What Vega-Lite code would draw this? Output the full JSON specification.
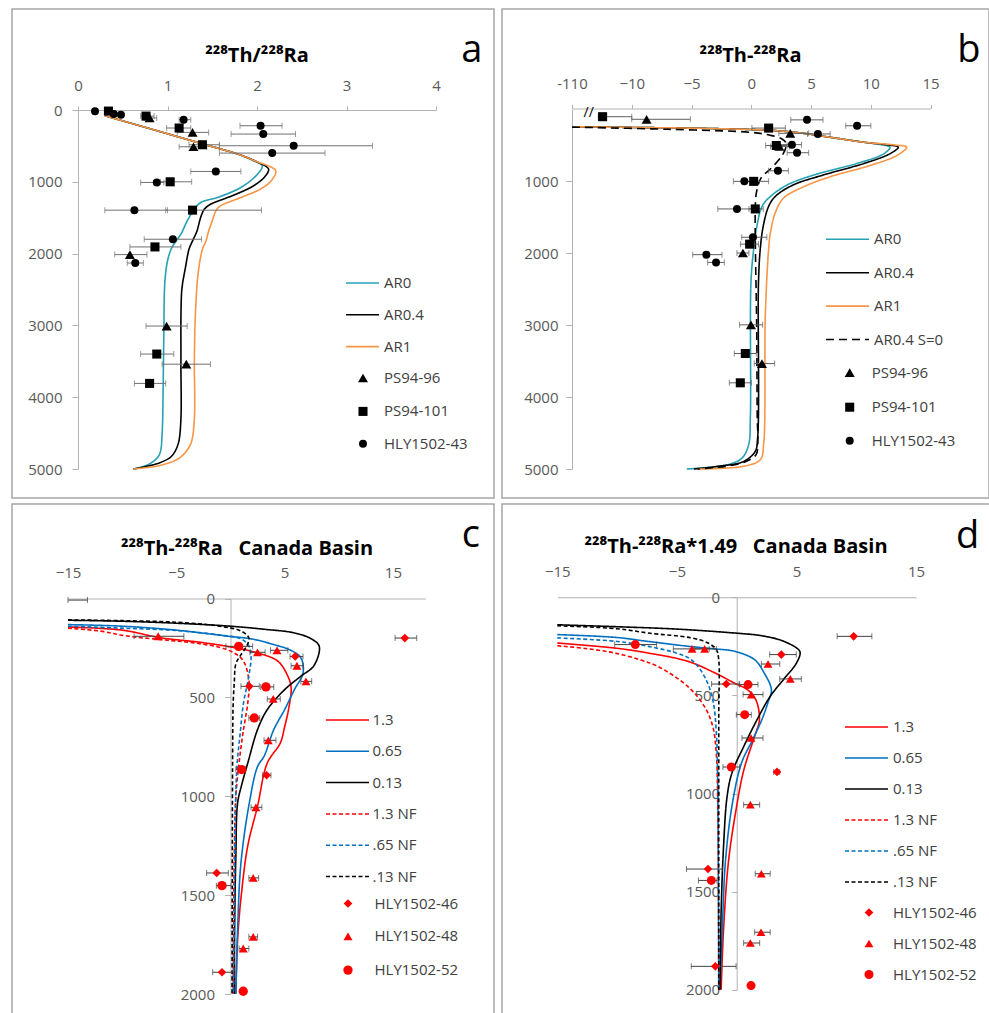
{
"$schema": "https://vega.github.io/schema/vega-lite/v6.json",
"background": "white",
"padding": {"left": 11, "top": 8, "right": 0, "bottom": 0},
"spacing": 4,
"resolve": {"scale": {"color": "independent", "shape": "independent", "size": "independent", "strokeDash": "independent", "strokeWidth": "independent"}, "legend": {"color": "independent", "shape": "independent", "size": "independent", "strokeDash": "independent", "strokeWidth": "independent"}},
"config": {
  "font": "Open Sans",
  "view": {"stroke": "#a6a6a6", "strokeWidth": 1.5},
  "axis": {"grid": false, "domainColor": "#b3b3b3", "tickColor": "#b3b3b3", "labelColor": "#595959", "labelFont": "Open Sans", "labelFontSize": 15, "labelFlush": false, "labelOverlap": false, "format": "d"},
  "title": {"font": "Open Sans", "fontSize": 20, "fontWeight": "bold", "color": "#000000", "anchor": "middle", "frame": "group"},
  "legend": {"labelFont": "Open Sans", "labelFontSize": 15, "labelColor": "#404040", "padding": 0, "columns": 1}
},
"datasets": {
  "a_lines": [
    {"series":"AR0","x":0.30,"depth":80},{"series":"AR0","x":1.0,"depth":330},{"series":"AR0","x":1.5,"depth":510},{"series":"AR0","x":1.75,"depth":600},{"series":"AR0","x":1.95,"depth":700},{"series":"AR0","x":2.06,"depth":780},{"series":"AR0","x":1.97,"depth":940},{"series":"AR0","x":1.82,"depth":1079},{"series":"AR0","x":1.56,"depth":1219},{"series":"AR0","x":1.37,"depth":1288},{"series":"AR0","x":1.30,"depth":1381},{"series":"AR0","x":1.22,"depth":1544},{"series":"AR0","x":1.15,"depth":1730},{"series":"AR0","x":1.07,"depth":1870},{"series":"AR0","x":1.04,"depth":1940},{"series":"AR0","x":1.0,"depth":2100},{"series":"AR0","x":0.97,"depth":2400},{"series":"AR0","x":0.96,"depth":3000},{"series":"AR0","x":0.95,"depth":4000},{"series":"AR0","x":0.94,"depth":4500},{"series":"AR0","x":0.91,"depth":4800},{"series":"AR0","x":0.80,"depth":4930},{"series":"AR0","x":0.62,"depth":5000},
    {"series":"AR0.4","x":0.30,"depth":80},{"series":"AR0.4","x":1.0,"depth":330},{"series":"AR0.4","x":1.5,"depth":510},{"series":"AR0.4","x":1.75,"depth":600},{"series":"AR0.4","x":1.98,"depth":710},{"series":"AR0.4","x":2.13,"depth":823},{"series":"AR0.4","x":2.08,"depth":940},{"series":"AR0.4","x":1.93,"depth":1079},{"series":"AR0.4","x":1.67,"depth":1219},{"series":"AR0.4","x":1.48,"depth":1312},{"series":"AR0.4","x":1.41,"depth":1381},{"series":"AR0.4","x":1.37,"depth":1498},{"series":"AR0.4","x":1.33,"depth":1684},{"series":"AR0.4","x":1.28,"depth":1823},{"series":"AR0.4","x":1.24,"depth":1940},{"series":"AR0.4","x":1.2,"depth":2200},{"series":"AR0.4","x":1.16,"depth":2500},{"series":"AR0.4","x":1.15,"depth":3500},{"series":"AR0.4","x":1.15,"depth":4300},{"series":"AR0.4","x":1.12,"depth":4650},{"series":"AR0.4","x":1.04,"depth":4830},{"series":"AR0.4","x":0.89,"depth":4925},{"series":"AR0.4","x":0.62,"depth":5000},
    {"series":"AR1","x":0.30,"depth":80},{"series":"AR1","x":1.0,"depth":330},{"series":"AR1","x":1.5,"depth":510},{"series":"AR1","x":1.75,"depth":600},{"series":"AR1","x":2.0,"depth":720},{"series":"AR1","x":2.21,"depth":847},{"series":"AR1","x":2.16,"depth":986},{"series":"AR1","x":2.04,"depth":1102},{"series":"AR1","x":1.82,"depth":1219},{"series":"AR1","x":1.59,"depth":1335},{"series":"AR1","x":1.54,"depth":1405},{"series":"AR1","x":1.50,"depth":1544},{"series":"AR1","x":1.46,"depth":1684},{"series":"AR1","x":1.43,"depth":1823},{"series":"AR1","x":1.39,"depth":1940},{"series":"AR1","x":1.34,"depth":2300},{"series":"AR1","x":1.31,"depth":2900},{"series":"AR1","x":1.30,"depth":3500},{"series":"AR1","x":1.30,"depth":4300},{"series":"AR1","x":1.26,"depth":4650},{"series":"AR1","x":1.14,"depth":4840},{"series":"AR1","x":0.95,"depth":4940},{"series":"AR1","x":0.62,"depth":5000}
  ],
  "a_pts": [
    {"series":"PS94-96","x":0.80,"depth":110,"lo":0.74,"hi":0.88},
    {"series":"PS94-96","x":1.28,"depth":312,"lo":1.11,"hi":1.46},
    {"series":"PS94-96","x":1.29,"depth":512,"lo":1.13,"hi":1.44},
    {"series":"PS94-96","x":0.58,"depth":2014,"lo":0.41,"hi":0.77},
    {"series":"PS94-96","x":0.99,"depth":3009,"lo":0.76,"hi":1.22},
    {"series":"PS94-96","x":1.21,"depth":3540,"lo":0.94,"hi":1.48},
    {"series":"PS94-101","x":0.34,"depth":15,"lo":null,"hi":null},
    {"series":"PS94-101","x":0.76,"depth":85,"lo":0.70,"hi":0.85},
    {"series":"PS94-101","x":1.13,"depth":251,"lo":0.99,"hi":1.26},
    {"series":"PS94-101","x":1.39,"depth":484,"lo":1.24,"hi":1.58},
    {"series":"PS94-101","x":1.03,"depth":1000,"lo":0.92,"hi":1.27},
    {"series":"PS94-101","x":1.28,"depth":1395,"lo":0.98,"hi":2.05},
    {"series":"PS94-101","x":0.86,"depth":1907,"lo":0.58,"hi":1.15},
    {"series":"PS94-101","x":0.88,"depth":3399,"lo":0.70,"hi":1.07},
    {"series":"PS94-101","x":0.80,"depth":3808,"lo":0.63,"hi":0.98},
    {"series":"HLY1502-43","x":0.19,"depth":19,"lo":null,"hi":null},
    {"series":"HLY1502-43","x":0.40,"depth":56,"lo":null,"hi":null},
    {"series":"HLY1502-43","x":0.48,"depth":65,"lo":null,"hi":null},
    {"series":"HLY1502-43","x":1.18,"depth":135,"lo":1.13,"hi":1.26},
    {"series":"HLY1502-43","x":2.04,"depth":219,"lo":1.81,"hi":2.28},
    {"series":"HLY1502-43","x":2.07,"depth":335,"lo":1.71,"hi":2.43},
    {"series":"HLY1502-43","x":2.41,"depth":498,"lo":1.58,"hi":3.29},
    {"series":"HLY1502-43","x":2.17,"depth":600,"lo":1.58,"hi":2.76},
    {"series":"HLY1502-43","x":1.54,"depth":856,"lo":1.26,"hi":1.82},
    {"series":"HLY1502-43","x":0.88,"depth":1009,"lo":0.70,"hi":0.96},
    {"series":"HLY1502-43","x":0.63,"depth":1395,"lo":0.30,"hi":1.0},
    {"series":"HLY1502-43","x":1.06,"depth":1800,"lo":0.74,"hi":1.38},
    {"series":"HLY1502-43","x":0.64,"depth":2131,"lo":0.55,"hi":0.73}
  ],
  "b_lines": [
    {"series":"AR0","x":-15,"depth":247},{"series":"AR0","x":-10,"depth":256},{"series":"AR0","x":-5,"depth":266},{"series":"AR0","x":0,"depth":285},{"series":"AR0","x":2,"depth":300},{"series":"AR0","x":4,"depth":330},{"series":"AR0","x":6.6,"depth":393},{"series":"AR0","x":9.4,"depth":461},{"series":"AR0","x":11.0,"depth":500},{"series":"AR0","x":11.6,"depth":530},{"series":"AR0","x":11.1,"depth":621},{"series":"AR0","x":8.8,"depth":758},{"series":"AR0","x":5.2,"depth":918},{"series":"AR0","x":3.0,"depth":1055},{"series":"AR0","x":1.6,"depth":1215},{"series":"AR0","x":0.9,"depth":1352},{"series":"AR0","x":0.47,"depth":1626},{"series":"AR0","x":0.2,"depth":1944},{"series":"AR0","x":-0.03,"depth":2412},{"series":"AR0","x":-0.08,"depth":4286},{"series":"AR0","x":-0.22,"depth":4660},{"series":"AR0","x":-0.78,"depth":4848},{"series":"AR0","x":-2.03,"depth":4941},{"series":"AR0","x":-5.4,"depth":5000},
    {"series":"AR0.4","x":-15,"depth":247},{"series":"AR0.4","x":-10,"depth":256},{"series":"AR0.4","x":-5,"depth":266},{"series":"AR0.4","x":0,"depth":285},{"series":"AR0.4","x":2,"depth":300},{"series":"AR0.4","x":4,"depth":330},{"series":"AR0.4","x":6.6,"depth":393},{"series":"AR0.4","x":9.4,"depth":461},{"series":"AR0.4","x":11.5,"depth":500},{"series":"AR0.4","x":12.3,"depth":530},{"series":"AR0.4","x":11.6,"depth":621},{"series":"AR0.4","x":9.4,"depth":758},{"series":"AR0.4","x":6.0,"depth":918},{"series":"AR0.4","x":3.5,"depth":1055},{"series":"AR0.4","x":2.0,"depth":1215},{"series":"AR0.4","x":1.45,"depth":1352},{"series":"AR0.4","x":1.0,"depth":1626},{"series":"AR0.4","x":0.75,"depth":1944},{"series":"AR0.4","x":0.6,"depth":2412},{"series":"AR0.4","x":0.53,"depth":4567},{"series":"AR0.4","x":0.33,"depth":4754},{"series":"AR0.4","x":-0.64,"depth":4895},{"series":"AR0.4","x":-2.9,"depth":4965},{"series":"AR0.4","x":-4.8,"depth":5000},
    {"series":"AR1","x":-15,"depth":247},{"series":"AR1","x":-10,"depth":256},{"series":"AR1","x":-5,"depth":266},{"series":"AR1","x":0,"depth":285},{"series":"AR1","x":2,"depth":300},{"series":"AR1","x":4,"depth":330},{"series":"AR1","x":6.6,"depth":393},{"series":"AR1","x":9.4,"depth":461},{"series":"AR1","x":12.0,"depth":500},{"series":"AR1","x":13.0,"depth":530},{"series":"AR1","x":12.2,"depth":644},{"series":"AR1","x":10.0,"depth":781},{"series":"AR1","x":6.6,"depth":941},{"series":"AR1","x":4.4,"depth":1078},{"series":"AR1","x":2.7,"depth":1237},{"series":"AR1","x":2.0,"depth":1443},{"series":"AR1","x":1.6,"depth":1717},{"series":"AR1","x":1.45,"depth":1944},{"series":"AR1","x":1.17,"depth":2880},{"series":"AR1","x":1.03,"depth":4660},{"series":"AR1","x":0.75,"depth":4871},{"series":"AR1","x":-0.64,"depth":4962},{"series":"AR1","x":-4.5,"depth":5000},
    {"series":"AR0.4 S=0","x":-15,"depth":252},{"series":"AR0.4 S=0","x":-7,"depth":282},{"series":"AR0.4 S=0","x":0,"depth":325},{"series":"AR0.4 S=0","x":1.5,"depth":362},{"series":"AR0.4 S=0","x":2.5,"depth":410},{"series":"AR0.4 S=0","x":2.9,"depth":470},{"series":"AR0.4 S=0","x":2.9,"depth":530},{"series":"AR0.4 S=0","x":2.6,"depth":640},{"series":"AR0.4 S=0","x":1.8,"depth":800},{"series":"AR0.4 S=0","x":0.8,"depth":963},{"series":"AR0.4 S=0","x":0.42,"depth":1169},{"series":"AR0.4 S=0","x":0.33,"depth":1420},{"series":"AR0.4 S=0","x":0.35,"depth":2000},{"series":"AR0.4 S=0","x":0.45,"depth":3000},{"series":"AR0.4 S=0","x":0.5,"depth":4300},{"series":"AR0.4 S=0","x":0.55,"depth":4600},{"series":"AR0.4 S=0","x":0.4,"depth":4800},{"series":"AR0.4 S=0","x":-0.5,"depth":4900},{"series":"AR0.4 S=0","x":-2.0,"depth":4960},{"series":"AR0.4 S=0","x":-4.5,"depth":5000}
  ],
  "b_pts": [
    {"series":"PS94-101","x":-12.44,"depth":107,"lo":-12.8,"hi":-10.0},
    {"series":"PS94-101","x":1.45,"depth":265,"lo":0.05,"hi":2.85},
    {"series":"PS94-101","x":2.09,"depth":507,"lo":1.2,"hi":3.0},
    {"series":"PS94-101","x":0.2,"depth":1005,"lo":-0.6,"hi":1.45},
    {"series":"PS94-101","x":0.33,"depth":1388,"lo":-0.2,"hi":1.0},
    {"series":"PS94-101","x":-0.14,"depth":1877,"lo":-0.9,"hi":0.6},
    {"series":"PS94-101","x":-0.5,"depth":3396,"lo":-1.42,"hi":0.42},
    {"series":"PS94-101","x":-0.92,"depth":3803,"lo":-1.84,"hi":0.0},
    {"series":"PS94-96","x":-8.76,"depth":143,"lo":-10.0,"hi":-5.1},
    {"series":"PS94-96","x":3.26,"depth":338,"lo":2.3,"hi":4.8},
    {"series":"PS94-96","x":2.35,"depth":520,"lo":1.6,"hi":3.2},
    {"series":"PS94-96","x":-0.7,"depth":2000,"lo":-1.2,"hi":-0.2},
    {"series":"PS94-96","x":-0.03,"depth":2998,"lo":-0.98,"hi":0.95},
    {"series":"PS94-96","x":0.89,"depth":3536,"lo":0.25,"hi":1.95},
    {"series":"HLY1502-43","x":4.66,"depth":151,"lo":3.3,"hi":6.0},
    {"series":"HLY1502-43","x":8.85,"depth":233,"lo":7.9,"hi":10.0},
    {"series":"HLY1502-43","x":5.57,"depth":347,"lo":4.7,"hi":6.6},
    {"series":"HLY1502-43","x":3.4,"depth":495,"lo":2.3,"hi":4.2},
    {"series":"HLY1502-43","x":3.83,"depth":607,"lo":3.0,"hi":4.8},
    {"series":"HLY1502-43","x":2.23,"depth":858,"lo":1.45,"hi":3.1},
    {"series":"HLY1502-43","x":-0.58,"depth":1005,"lo":-1.5,"hi":0.2},
    {"series":"HLY1502-43","x":-1.2,"depth":1388,"lo":-2.8,"hi":0.2},
    {"series":"HLY1502-43","x":0.14,"depth":1781,"lo":-0.8,"hi":1.3},
    {"series":"HLY1502-43","x":-3.76,"depth":2023,"lo":-4.9,"hi":-2.45},
    {"series":"HLY1502-43","x":-2.95,"depth":2131,"lo":-3.65,"hi":-2.26}
  ],
  "c_lines": [
    {"series":"1.3","x":-15,"depth":144},{"series":"1.3","x":-10,"depth":160},{"series":"1.3","x":-6.4,"depth":199},{"series":"1.3","x":-3,"depth":220},{"series":"1.3","x":-0.3,"depth":242},{"series":"1.3","x":2.5,"depth":275},{"series":"1.3","x":4.4,"depth":318},{"series":"1.3","x":5.3,"depth":393},{"series":"1.3","x":5.6,"depth":450},{"series":"1.3","x":5.4,"depth":550},{"series":"1.3","x":5.0,"depth":650},{"series":"1.3","x":4.6,"depth":731},{"series":"1.3","x":3.4,"depth":832},{"series":"1.3","x":2.5,"depth":1050},{"series":"1.3","x":1.6,"depth":1250},{"series":"1.3","x":1.0,"depth":1500},{"series":"1.3","x":0.66,"depth":1725},{"series":"1.3","x":0.5,"depth":2000},
    {"series":"0.65","x":-15,"depth":132},{"series":"0.65","x":-10,"depth":140},{"series":"0.65","x":-5,"depth":160},{"series":"0.65","x":-0.3,"depth":190},{"series":"0.65","x":2,"depth":205},{"series":"0.65","x":4,"depth":233},{"series":"0.65","x":5.5,"depth":260},{"series":"0.65","x":6.5,"depth":300},{"series":"0.65","x":6.7,"depth":377},{"series":"0.65","x":5.9,"depth":461},{"series":"0.65","x":5.0,"depth":562},{"series":"0.65","x":4.0,"depth":663},{"series":"0.65","x":3.1,"depth":798},{"series":"0.65","x":2.5,"depth":850},{"series":"0.65","x":1.74,"depth":1034},{"series":"0.65","x":0.97,"depth":1337},{"series":"0.65","x":0.66,"depth":1674},{"series":"0.65","x":0.5,"depth":2000},
    {"series":"0.13","x":-15,"depth":110},{"series":"0.13","x":-10,"depth":115},{"series":"0.13","x":-5,"depth":125},{"series":"0.13","x":0,"depth":140},{"series":"0.13","x":3,"depth":155},{"series":"0.13","x":5.9,"depth":174},{"series":"0.13","x":7.5,"depth":205},{"series":"0.13","x":8.2,"depth":242},{"series":"0.13","x":7.7,"depth":340},{"series":"0.13","x":6.5,"depth":393},{"series":"0.13","x":5.0,"depth":461},{"series":"0.13","x":3.4,"depth":562},{"series":"0.13","x":2.5,"depth":663},{"series":"0.13","x":1.6,"depth":832},{"series":"0.13","x":1.0,"depth":950},{"series":"0.13","x":0.66,"depth":1034},{"series":"0.13","x":0.5,"depth":1300},{"series":"0.13","x":0.4,"depth":1600},{"series":"0.13","x":0.35,"depth":2000},
    {"series":"1.3 NF","x":-15,"depth":150},{"series":"1.3 NF","x":-12,"depth":165},{"series":"1.3 NF","x":-9.5,"depth":190},{"series":"1.3 NF","x":-6,"depth":210},{"series":"1.3 NF","x":-3.3,"depth":225},{"series":"1.3 NF","x":-0.3,"depth":259},{"series":"1.3 NF","x":1.1,"depth":309},{"series":"1.3 NF","x":1.7,"depth":410},{"series":"1.3 NF","x":1.6,"depth":528},{"series":"1.3 NF","x":1.2,"depth":663},{"series":"1.3 NF","x":0.8,"depth":830},{"series":"1.3 NF","x":0.5,"depth":1000},{"series":"1.3 NF","x":0.35,"depth":1300},{"series":"1.3 NF","x":0.25,"depth":2000},
    {"series":".65 NF","x":-15,"depth":140},{"series":".65 NF","x":-10,"depth":150},{"series":".65 NF","x":-5,"depth":162},{"series":".65 NF","x":-1,"depth":185},{"series":".65 NF","x":1,"depth":205},{"series":".65 NF","x":1.7,"depth":240},{"series":".65 NF","x":1.9,"depth":300},{"series":".65 NF","x":1.6,"depth":420},{"series":".65 NF","x":1.2,"depth":530},{"series":".65 NF","x":0.9,"depth":680},{"series":".65 NF","x":0.6,"depth":850},{"series":".65 NF","x":0.45,"depth":1100},{"series":".65 NF","x":0.3,"depth":2000},
    {"series":".13 NF","x":-15,"depth":108},{"series":".13 NF","x":-10,"depth":112},{"series":".13 NF","x":-5,"depth":120},{"series":".13 NF","x":-1,"depth":140},{"series":".13 NF","x":1,"depth":165},{"series":".13 NF","x":1.7,"depth":200},{"series":".13 NF","x":1.5,"depth":240},{"series":".13 NF","x":0.9,"depth":290},{"series":".13 NF","x":0.5,"depth":330},{"series":".13 NF","x":0.35,"depth":430},{"series":".13 NF","x":0.25,"depth":530},{"series":".13 NF","x":0.2,"depth":800},{"series":".13 NF","x":0.15,"depth":2000}
  ],
  "c_pts": [
    {"series":"HLY1502-46","x":16.1,"depth":200,"lo":15.2,"hi":17.2},
    {"series":"HLY1502-46","x":5.98,"depth":293,"lo":5.5,"hi":6.7},
    {"series":"HLY1502-46","x":1.74,"depth":444,"lo":0.97,"hi":2.66},
    {"series":"HLY1502-46","x":3.34,"depth":894,"lo":2.97,"hi":3.74},
    {"series":"HLY1502-46","x":-1.27,"depth":1388,"lo":-2.2,"hi":-0.2},
    {"series":"HLY1502-46","x":-0.78,"depth":1890,"lo":-1.64,"hi":0.35},
    {"series":"HLY1502-48","x":null,"depth":8,"lo":-15,"hi":-13.2},
    {"series":"HLY1502-48","x":-6.67,"depth":191,"lo":-8.9,"hi":-4.3},
    {"series":"HLY1502-48","x":2.5,"depth":272,"lo":1.8,"hi":3.2},
    {"series":"HLY1502-48","x":4.3,"depth":262,"lo":3.7,"hi":5.3},
    {"series":"HLY1502-48","x":6.14,"depth":340,"lo":5.6,"hi":6.7},
    {"series":"HLY1502-48","x":6.97,"depth":419,"lo":6.5,"hi":7.5},
    {"series":"HLY1502-48","x":3.95,"depth":508,"lo":3.4,"hi":4.6},
    {"series":"HLY1502-48","x":3.49,"depth":717,"lo":3.1,"hi":4.2},
    {"series":"HLY1502-48","x":2.35,"depth":1056,"lo":1.9,"hi":2.9},
    {"series":"HLY1502-48","x":2.1,"depth":1413,"lo":1.7,"hi":2.6},
    {"series":"HLY1502-48","x":2.1,"depth":1711,"lo":1.7,"hi":2.5},
    {"series":"HLY1502-48","x":1.18,"depth":1770,"lo":0.8,"hi":1.7},
    {"series":"HLY1502-52","x":0.76,"depth":242,"lo":-0.42,"hi":2.05},
    {"series":"HLY1502-52","x":3.28,"depth":447,"lo":2.8,"hi":4.0},
    {"series":"HLY1502-52","x":2.2,"depth":604,"lo":1.7,"hi":2.7},
    {"series":"HLY1502-52","x":1.03,"depth":865,"lo":0.5,"hi":1.4},
    {"series":"HLY1502-52","x":-0.78,"depth":1452,"lo":-1.3,"hi":0.05},
    {"series":"HLY1502-52","x":1.18,"depth":1986,"lo":null,"hi":null}
  ],
  "d_lines": [
    {"series":"1.3","x":-15,"depth":233},{"series":"1.3","x":-10,"depth":260},{"series":"1.3","x":-7.4,"depth":284},{"series":"1.3","x":-4.1,"depth":326},{"series":"1.3","x":-1.8,"depth":386},{"series":"1.3","x":-0.2,"depth":437},{"series":"1.3","x":0.9,"depth":471},{"series":"1.3","x":1.6,"depth":522},{"series":"1.3","x":1.9,"depth":624},{"series":"1.3","x":1.5,"depth":708},{"series":"1.3","x":0.6,"depth":879},{"series":"1.3","x":-0.1,"depth":1099},{"series":"1.3","x":-0.7,"depth":1354},{"series":"1.3","x":-1.1,"depth":1694},{"series":"1.3","x":-1.3,"depth":2000},
    {"series":"0.65","x":-15,"depth":190},{"series":"0.65","x":-10,"depth":205},{"series":"0.65","x":-7.4,"depth":225},{"series":"0.65","x":-4,"depth":250},{"series":"0.65","x":-1.8,"depth":263},{"series":"0.65","x":-0.2,"depth":275},{"series":"0.65","x":1.5,"depth":318},{"series":"0.65","x":2.3,"depth":386},{"series":"0.65","x":2.9,"depth":471},{"series":"0.65","x":2.6,"depth":539},{"series":"0.65","x":2.1,"depth":624},{"series":"0.65","x":1.3,"depth":730},{"series":"0.65","x":0.4,"depth":845},{"series":"0.65","x":-0.4,"depth":1065},{"series":"0.65","x":-0.95,"depth":1354},{"series":"0.65","x":-1.2,"depth":1694},{"series":"0.65","x":-1.4,"depth":2000},
    {"series":"0.13","x":-15,"depth":140},{"series":"0.13","x":-10,"depth":150},{"series":"0.13","x":-5,"depth":162},{"series":"0.13","x":-0.2,"depth":182},{"series":"0.13","x":2,"depth":195},{"series":"0.13","x":3.7,"depth":219},{"series":"0.13","x":5.0,"depth":258},{"series":"0.13","x":5.3,"depth":280},{"series":"0.13","x":5.0,"depth":335},{"series":"0.13","x":3.9,"depth":420},{"series":"0.13","x":2.8,"depth":505},{"series":"0.13","x":1.7,"depth":624},{"series":"0.13","x":0.6,"depth":759},{"series":"0.13","x":-0.4,"depth":896},{"series":"0.13","x":-0.8,"depth":1014},{"series":"0.13","x":-1.1,"depth":1270},{"series":"0.13","x":-1.3,"depth":1600},{"series":"0.13","x":-1.4,"depth":2000},
    {"series":"1.3 NF","x":-15,"depth":247},{"series":"1.3 NF","x":-12.5,"depth":262},{"series":"1.3 NF","x":-10.2,"depth":284},{"series":"1.3 NF","x":-8,"depth":320},{"series":"1.3 NF","x":-6.6,"depth":352},{"series":"1.3 NF","x":-4.1,"depth":454},{"series":"1.3 NF","x":-2.7,"depth":556},{"series":"1.3 NF","x":-2.0,"depth":658},{"series":"1.3 NF","x":-1.7,"depth":800},{"series":"1.3 NF","x":-1.6,"depth":1000},{"series":"1.3 NF","x":-1.5,"depth":2000},
    {"series":".65 NF","x":-15,"depth":207},{"series":".65 NF","x":-10,"depth":225},{"series":".65 NF","x":-7.4,"depth":250},{"series":".65 NF","x":-5,"depth":285},{"series":".65 NF","x":-3.8,"depth":318},{"series":".65 NF","x":-2.7,"depth":403},{"series":".65 NF","x":-2.0,"depth":522},{"series":".65 NF","x":-1.7,"depth":692},{"series":".65 NF","x":-1.6,"depth":900},{"series":".65 NF","x":-1.5,"depth":2000},
    {"series":".13 NF","x":-15,"depth":145},{"series":".13 NF","x":-10,"depth":160},{"series":".13 NF","x":-7.4,"depth":182},{"series":".13 NF","x":-3.8,"depth":207},{"series":".13 NF","x":-2.4,"depth":233},{"series":".13 NF","x":-1.7,"depth":267},{"series":".13 NF","x":-1.5,"depth":320},{"series":".13 NF","x":-1.5,"depth":600},{"series":".13 NF","x":-1.5,"depth":2000}
  ],
  "d_pts": [
    {"series":"HLY1502-46","x":9.78,"depth":199,"lo":8.4,"hi":11.3},
    {"series":"HLY1502-46","x":3.73,"depth":292,"lo":2.76,"hi":4.98},
    {"series":"HLY1502-46","x":-0.87,"depth":442,"lo":-2.1,"hi":0.2},
    {"series":"HLY1502-46","x":3.37,"depth":890,"lo":3.1,"hi":3.6},
    {"series":"HLY1502-46","x":-2.4,"depth":1385,"lo":-4.2,"hi":-1.2},
    {"series":"HLY1502-46","x":-1.79,"depth":1881,"lo":-3.8,"hi":-0.05},
    {"series":"HLY1502-48","x":-3.74,"depth":263,"lo":-5.3,"hi":-2.3},
    {"series":"HLY1502-48","x":-2.68,"depth":263,"lo":-3.5,"hi":-1.7},
    {"series":"HLY1502-48","x":2.62,"depth":340,"lo":2.06,"hi":3.6},
    {"series":"HLY1502-48","x":4.48,"depth":416,"lo":3.6,"hi":5.4},
    {"series":"HLY1502-48","x":1.22,"depth":496,"lo":0.53,"hi":2.2},
    {"series":"HLY1502-48","x":1.2,"depth":717,"lo":0.44,"hi":2.2},
    {"series":"HLY1502-48","x":1.14,"depth":1057,"lo":0.58,"hi":1.92},
    {"series":"HLY1502-48","x":2.06,"depth":1409,"lo":1.55,"hi":2.8},
    {"series":"HLY1502-48","x":2.03,"depth":1707,"lo":1.5,"hi":2.8},
    {"series":"HLY1502-48","x":1.14,"depth":1762,"lo":0.58,"hi":1.92},
    {"series":"HLY1502-52","x":-8.48,"depth":241,"lo":-10.2,"hi":-6.7},
    {"series":"HLY1502-52","x":0.95,"depth":445,"lo":0.25,"hi":1.78},
    {"series":"HLY1502-52","x":0.67,"depth":598,"lo":-0.03,"hi":1.22},
    {"series":"HLY1502-52","x":-0.45,"depth":865,"lo":-1.15,"hi":0.25},
    {"series":"HLY1502-52","x":-2.12,"depth":1443,"lo":-3.2,"hi":-1.65},
    {"series":"HLY1502-52","x":1.2,"depth":1979,"lo":null,"hi":null}
  ]
},
"vconcat": [
 {"spacing": 6,
  "resolve": {"scale": {"color": "independent", "shape": "independent", "size": "independent", "strokeDash": "independent", "strokeWidth": "independent"}, "legend": {"color": "independent", "shape": "independent", "size": "independent", "strokeDash": "independent", "strokeWidth": "independent"}},
  "hconcat": [
  {
   "width": 482, "height": 489,
   "title": {"text": "²²⁸Th/²²⁸Ra", "offset": -57, "dx": 4},
   "layer": [
    {"data": {"name": "a_lines"}, "mark": {"type": "line", "strokeWidth": 1.6, "interpolate": "catmull-rom"},
     "encoding": {
      "x": {"field": "x", "type": "quantitative", "title": null, "scale": {"domain": [0,4], "range": [66,424], "nice": false, "zero": false}, "axis": {"orient": "top", "offset": -101, "values": [0,1,2,3,4], "tickSize": 4, "labelPadding": 13}},
      "y": {"field": "depth", "type": "quantitative", "title": null, "scale": {"domain": [0,5000], "range": [101,460], "nice": false, "zero": false}, "axis": {"orient": "left", "offset": -66, "values": [0,1000,2000,3000,4000,5000], "tickSize": 6, "labelPadding": 10}},
      "color": {"field": "series", "type": "nominal",
        "scale": {"domain": ["AR0","AR0.4","AR1"], "range": ["#27a1b4","#000000","#f79646"]},
        "legend": {"orient": "none", "legendX": 333, "legendY": 256.5, "title": null, "symbolType": "stroke", "symbolSize": 1089, "symbolStrokeWidth": 1.6, "labelOffset": 4, "rowPadding": 5.8}},
      "order": {"field": "depth", "type": "quantitative"}
     }},
    {"data": {"name": "a_pts"}, "transform": [{"filter": "datum.lo != null"}], "mark": {"type": "rule", "color": "#707070", "strokeWidth": 1},
     "encoding": {"x": {"field": "lo", "type": "quantitative", "title": null}, "x2": {"field": "hi"}, "y": {"field": "depth", "type": "quantitative", "title": null}}},
    {"data": {"name": "a_pts"}, "transform": [{"filter": "datum.lo != null"}], "mark": {"type": "tick", "orient": "vertical", "color": "#707070", "size": 6, "thickness": 1},
     "encoding": {"x": {"field": "lo", "type": "quantitative", "title": null}, "y": {"field": "depth", "type": "quantitative", "title": null}}},
    {"data": {"name": "a_pts"}, "transform": [{"filter": "datum.lo != null"}], "mark": {"type": "tick", "orient": "vertical", "color": "#707070", "size": 6, "thickness": 1},
     "encoding": {"x": {"field": "hi", "type": "quantitative", "title": null}, "y": {"field": "depth", "type": "quantitative", "title": null}}},
    {"data": {"name": "a_pts"}, "mark": {"type": "point", "filled": true, "opacity": 1, "color": "#000000"},
     "encoding": {"x": {"field": "x", "type": "quantitative", "title": null}, "y": {"field": "depth", "type": "quantitative", "title": null},
      "shape": {"field": "series", "type": "nominal", "scale": {"domain": ["PS94-96","PS94-101","HLY1502-43"], "range": ["triangle-up","square","circle"]},
        "legend": {"orient": "none", "legendX": 343.5, "legendY": 361.5, "title": null, "labelOffset": 13.5, "rowPadding": 16.4}},
      "size": {"field": "series", "type": "nominal", "scale": {"domain": ["PS94-96","PS94-101","HLY1502-43"], "range": [100,64,60]},
        "legend": {"orient": "none", "legendX": 343.5, "legendY": 361.5, "title": null, "labelOffset": 13.5, "rowPadding": 16.4}}}},
    {"data": {"values": [{"t": "a", "x": 4.40, "depth": -669}]}, "mark": {"type": "text", "fontSize": 38, "align": "center", "baseline": "alphabetic", "color": "#000000"},
     "encoding": {"x": {"field": "x", "type": "quantitative", "title": null}, "y": {"field": "depth", "type": "quantitative", "title": null}, "text": {"field": "t"}}}
   ]
  },
  {
   "width": 487, "height": 489,
   "title": {"text": "²²⁸Th-²²⁸Ra", "offset": -57, "dx": 5},
   "layer": [
    {"data": {"name": "b_lines"}, "mark": {"type": "line", "interpolate": "catmull-rom"},
     "encoding": {
      "x": {"field": "x", "type": "quantitative", "title": null, "scale": {"domain": [-15,15], "range": [70,428.6], "nice": false, "zero": false}, "axis": {"orient": "top", "offset": -99.5, "values": [-15,-10,-5,0,5,10,15], "labelExpr": "datum.value == -15 ? '-110' : datum.label", "tickSize": 4, "labelPadding": 13}},
      "y": {"field": "depth", "type": "quantitative", "title": null, "scale": {"domain": [0,5000], "range": [100,460], "nice": false, "zero": false}, "axis": {"orient": "left", "offset": -70, "values": [1000,2000,3000,4000,5000], "tickSize": 6, "labelPadding": 8}},
      "color": {"field": "series", "type": "nominal",
        "scale": {"domain": ["AR0","AR0.4","AR1","AR0.4 S=0"], "range": ["#27a1b4","#000000","#f79646","#000000"]},
        "legend": {"orient": "none", "legendX": 323, "legendY": 207.8, "title": null, "symbolType": "stroke", "symbolSize": 1849, "labelOffset": 4, "rowPadding": 2.4}},
      "strokeDash": {"field": "series", "type": "nominal", "scale": {"domain": ["AR0","AR0.4","AR1","AR0.4 S=0"], "range": [[1,0],[1,0],[1,0],[8,5]]},
        "legend": {"orient": "none", "legendX": 323, "legendY": 207.8, "title": null, "symbolType": "stroke", "symbolSize": 1849, "labelOffset": 4, "rowPadding": 2.4}},
      "strokeWidth": {"field": "series", "type": "nominal", "scale": {"domain": ["AR0","AR0.4","AR1","AR0.4 S=0"], "range": [1.6,1.6,1.6,2.6]},
        "legend": {"orient": "none", "legendX": 323, "legendY": 207.8, "title": null, "symbolType": "stroke", "symbolSize": 1849, "labelOffset": 4, "rowPadding": 2.4}},
      "order": {"field": "depth", "type": "quantitative"}
     }},
    {"data": {"name": "b_pts"}, "transform": [{"filter": "datum.lo != null"}], "mark": {"type": "rule", "color": "#606060", "strokeWidth": 1},
     "encoding": {"x": {"field": "lo", "type": "quantitative", "title": null}, "x2": {"field": "hi"}, "y": {"field": "depth", "type": "quantitative", "title": null}}},
    {"data": {"name": "b_pts"}, "transform": [{"filter": "datum.lo != null"}], "mark": {"type": "tick", "orient": "vertical", "color": "#606060", "size": 6, "thickness": 1},
     "encoding": {"x": {"field": "lo", "type": "quantitative", "title": null}, "y": {"field": "depth", "type": "quantitative", "title": null}}},
    {"data": {"name": "b_pts"}, "transform": [{"filter": "datum.lo != null"}], "mark": {"type": "tick", "orient": "vertical", "color": "#606060", "size": 6, "thickness": 1},
     "encoding": {"x": {"field": "hi", "type": "quantitative", "title": null}, "y": {"field": "depth", "type": "quantitative", "title": null}}},
    {"data": {"name": "b_pts"}, "mark": {"type": "point", "filled": true, "opacity": 1, "color": "#000000"},
     "encoding": {"x": {"field": "x", "type": "quantitative", "title": null}, "y": {"field": "depth", "type": "quantitative", "title": null},
      "shape": {"field": "series", "type": "nominal", "scale": {"domain": ["PS94-96","PS94-101","HLY1502-43"], "range": ["triangle-up","square","circle"]},
        "legend": {"orient": "none", "legendX": 340.2, "legendY": 356.2, "title": null, "labelOffset": 14.5, "rowPadding": 17.5}},
      "size": {"field": "series", "type": "nominal", "scale": {"domain": ["PS94-96","PS94-101","HLY1502-43"], "range": [100,64,60]},
        "legend": {"orient": "none", "legendX": 340.2, "legendY": 356.2, "title": null, "labelOffset": 14.5, "rowPadding": 17.5}}}},
    {"data": {"values": [{"t": "b", "x": 18.2, "depth": -653}]}, "mark": {"type": "text", "fontSize": 38, "align": "center", "baseline": "alphabetic", "color": "#000000"},
     "encoding": {"x": {"field": "x", "type": "quantitative", "title": null}, "y": {"field": "depth", "type": "quantitative", "title": null}, "text": {"field": "t"}}},
    {"data": {"values": [{"t": "//", "x": -13.6, "depth": 62}]}, "mark": {"type": "text", "fontSize": 14, "align": "center", "baseline": "middle", "color": "#000000"},
     "encoding": {"x": {"field": "x", "type": "quantitative", "title": null}, "y": {"field": "depth", "type": "quantitative", "title": null}, "text": {"field": "t"}}}
   ]
  }
 ]},
 {"spacing": 6,
  "resolve": {"scale": {"color": "independent", "shape": "independent", "size": "independent", "strokeDash": "independent", "strokeWidth": "independent"}, "legend": {"color": "independent", "shape": "independent", "size": "independent", "strokeDash": "independent", "strokeWidth": "independent"}},
  "hconcat": [
  {
   "width": 482, "height": 510,
   "title": {"text": "²²⁸Th-²²⁸Ra\u00a0\u00a0\u00a0Canada Basin", "offset": -55, "dx": -6},
   "layer": [
    {"data": {"name": "c_lines"}, "mark": {"type": "line", "strokeWidth": 1.6, "interpolate": "catmull-rom"},
     "encoding": {
      "x": {"field": "x", "type": "quantitative", "title": null, "scale": {"domain": [-15,18], "range": [56,413.4], "nice": false, "zero": false}, "axis": {"orient": "top", "offset": -94.5, "values": [-15,-5,5,15], "tickSize": 0, "labelPadding": 18}},
      "y": {"field": "depth", "type": "quantitative", "title": null, "scale": {"domain": [0,2000], "range": [94.5,490], "nice": false, "zero": false}, "axis": {"orient": "left", "offset": -218.5, "values": [0,500,1000,1500,2000], "tickSize": 6, "labelPadding": 10}},
      "color": {"field": "series", "type": "nominal",
        "scale": {"domain": ["1.3","0.65","0.13","1.3 NF",".65 NF",".13 NF"], "range": ["#ff0000","#0070c0","#000000","#ff0000","#0070c0","#000000"]},
        "legend": {"orient": "none", "legendX": 313, "legendY": 193.5, "title": null, "symbolType": "stroke", "symbolSize": 1849, "labelOffset": 2.5, "rowPadding": 0.3}},
      "strokeDash": {"field": "series", "type": "nominal", "scale": {"domain": ["1.3","0.65","0.13","1.3 NF",".65 NF",".13 NF"], "range": [[1,0],[1,0],[1,0],[4,2.5],[4,2.5],[4,2.5]]},
        "legend": {"orient": "none", "legendX": 313, "legendY": 193.5, "title": null, "symbolType": "stroke", "symbolSize": 1849, "labelOffset": 2.5, "rowPadding": 0.3}},
      "order": {"field": "depth", "type": "quantitative"}
     }},
    {"data": {"name": "c_pts"}, "transform": [{"filter": "datum.lo != null"}], "mark": {"type": "rule", "color": "#404040", "strokeWidth": 1},
     "encoding": {"x": {"field": "lo", "type": "quantitative", "title": null}, "x2": {"field": "hi"}, "y": {"field": "depth", "type": "quantitative", "title": null}}},
    {"data": {"name": "c_pts"}, "transform": [{"filter": "datum.lo != null"}], "mark": {"type": "tick", "orient": "vertical", "color": "#404040", "size": 6, "thickness": 1},
     "encoding": {"x": {"field": "lo", "type": "quantitative", "title": null}, "y": {"field": "depth", "type": "quantitative", "title": null}}},
    {"data": {"name": "c_pts"}, "transform": [{"filter": "datum.lo != null"}], "mark": {"type": "tick", "orient": "vertical", "color": "#404040", "size": 6, "thickness": 1},
     "encoding": {"x": {"field": "hi", "type": "quantitative", "title": null}, "y": {"field": "depth", "type": "quantitative", "title": null}}},
    {"data": {"name": "c_pts"}, "transform": [{"filter": "datum.x != null"}], "mark": {"type": "point", "filled": true, "opacity": 1, "color": "#ff0000"},
     "encoding": {"x": {"field": "x", "type": "quantitative", "title": null}, "y": {"field": "depth", "type": "quantitative", "title": null},
      "shape": {"field": "series", "type": "nominal", "scale": {"domain": ["HLY1502-46","HLY1502-48","HLY1502-52"], "range": ["diamond","triangle-up","circle"]},
        "legend": {"orient": "none", "legendX": 328.5, "legendY": 392, "title": null, "labelOffset": 19, "rowPadding": 16.8}},
      "size": {"field": "series", "type": "nominal", "scale": {"domain": ["HLY1502-46","HLY1502-48","HLY1502-52"], "range": [75,87,81]},
        "legend": {"orient": "none", "legendX": 328.5, "legendY": 392, "title": null, "labelOffset": 19, "rowPadding": 16.8}}}},
    {"data": {"values": [{"t": "c", "x": 22.2, "depth": -260}]}, "mark": {"type": "text", "fontSize": 38, "align": "center", "baseline": "alphabetic", "color": "#000000"},
     "encoding": {"x": {"field": "x", "type": "quantitative", "title": null}, "y": {"field": "depth", "type": "quantitative", "title": null}, "text": {"field": "t"}}}
   ]
  },
  {
   "width": 488, "height": 510,
   "title": {"text": "²²⁸Th-²²⁸Ra*1.49\u00a0\u00a0\u00a0Canada Basin", "offset": -53, "dx": -10},
   "layer": [
    {"data": {"name": "d_lines"}, "mark": {"type": "line", "strokeWidth": 1.6, "interpolate": "catmull-rom"},
     "encoding": {
      "x": {"field": "x", "type": "quantitative", "title": null, "scale": {"domain": [-15,15], "range": [55.3,414.1], "nice": false, "zero": false}, "axis": {"orient": "top", "offset": -93.3, "values": [-15,-5,5,15], "tickSize": 0, "labelPadding": 18}},
      "y": {"field": "depth", "type": "quantitative", "title": null, "scale": {"domain": [0,2000], "range": [93.3,485.7], "nice": false, "zero": false}, "axis": {"orient": "left", "offset": -234.7, "values": [0,500,1000,1500,2000], "tickSize": 5, "labelPadding": 12}},
      "color": {"field": "series", "type": "nominal",
        "scale": {"domain": ["1.3","0.65","0.13","1.3 NF",".65 NF",".13 NF"], "range": ["#ff0000","#0070c0","#000000","#ff0000","#0070c0","#000000"]},
        "legend": {"orient": "none", "legendX": 342, "legendY": 200.5, "title": null, "symbolType": "stroke", "symbolSize": 1849, "labelOffset": 4, "rowPadding": 0}},
      "strokeDash": {"field": "series", "type": "nominal", "scale": {"domain": ["1.3","0.65","0.13","1.3 NF",".65 NF",".13 NF"], "range": [[1,0],[1,0],[1,0],[4,2.5],[4,2.5],[4,2.5]]},
        "legend": {"orient": "none", "legendX": 342, "legendY": 200.5, "title": null, "symbolType": "stroke", "symbolSize": 1849, "labelOffset": 4, "rowPadding": 0}},
      "order": {"field": "depth", "type": "quantitative"}
     }},
    {"data": {"name": "d_pts"}, "transform": [{"filter": "datum.lo != null"}], "mark": {"type": "rule", "color": "#404040", "strokeWidth": 1},
     "encoding": {"x": {"field": "lo", "type": "quantitative", "title": null}, "x2": {"field": "hi"}, "y": {"field": "depth", "type": "quantitative", "title": null}}},
    {"data": {"name": "d_pts"}, "transform": [{"filter": "datum.lo != null"}], "mark": {"type": "tick", "orient": "vertical", "color": "#404040", "size": 6, "thickness": 1},
     "encoding": {"x": {"field": "lo", "type": "quantitative", "title": null}, "y": {"field": "depth", "type": "quantitative", "title": null}}},
    {"data": {"name": "d_pts"}, "transform": [{"filter": "datum.lo != null"}], "mark": {"type": "tick", "orient": "vertical", "color": "#404040", "size": 6, "thickness": 1},
     "encoding": {"x": {"field": "hi", "type": "quantitative", "title": null}, "y": {"field": "depth", "type": "quantitative", "title": null}}},
    {"data": {"name": "d_pts"}, "mark": {"type": "point", "filled": true, "opacity": 1, "color": "#ff0000"},
     "encoding": {"x": {"field": "x", "type": "quantitative", "title": null}, "y": {"field": "depth", "type": "quantitative", "title": null},
      "shape": {"field": "series", "type": "nominal", "scale": {"domain": ["HLY1502-46","HLY1502-48","HLY1502-52"], "range": ["diamond","triangle-up","circle"]},
        "legend": {"orient": "none", "legendX": 359.5, "legendY": 401, "title": null, "labelOffset": 16.5, "rowPadding": 15}},
      "size": {"field": "series", "type": "nominal", "scale": {"domain": ["HLY1502-46","HLY1502-48","HLY1502-52"], "range": [75,81,100]},
        "legend": {"orient": "none", "legendX": 359.5, "legendY": 401, "title": null, "labelOffset": 16.5, "rowPadding": 15}}}},
    {"data": {"values": [{"t": "d", "x": 19.3, "depth": -251}]}, "mark": {"type": "text", "fontSize": 38, "align": "center", "baseline": "alphabetic", "color": "#000000"},
     "encoding": {"x": {"field": "x", "type": "quantitative", "title": null}, "y": {"field": "depth", "type": "quantitative", "title": null}, "text": {"field": "t"}}}
   ]
  }
 ]}
]
}
